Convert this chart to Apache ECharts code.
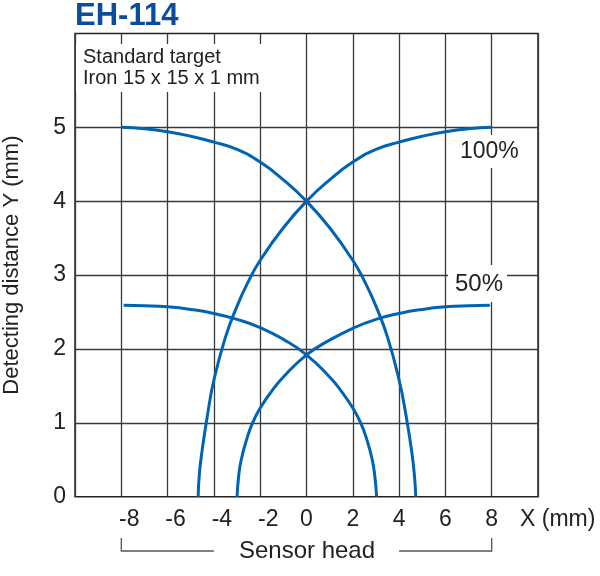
<!DOCTYPE html>
<html><head><meta charset="utf-8">
<script src="https://cdn.jsdelivr.net/npm/echarts@6/dist/echarts.min.js"></script>
<style>html,body{margin:0;padding:0;background:#fff}#c{width:600px;height:576px}</style>
</head><body><div id="c"></div>
<script>
// ---- data ----
const xTicks = [-8, -6, -4, -2, 0, 2, 4, 6, 8];
const yTicks = [0, 1, 2, 3, 4, 5];
// 100% curves
const c100DownX = [-8, -7, -6, -5, -4, -3, -2, -1, 0, 1, 2, 2.5, 3, 3.5, 4, 4.3, 4.55, 4.66, 4.72];
const c100DownY = [5.0, 4.98, 4.94, 4.88, 4.80, 4.70, 4.53, 4.29, 4.0, 3.64, 3.20, 2.92, 2.58, 2.16, 1.58, 1.10, 0.6, 0.3, 0];
const c100UpX = [8, 7, 6, 5, 4, 3, 2, 1, 0, -1, -2, -2.5, -3, -3.5, -4, -4.28, -4.52, -4.63, -4.68];
const c100UpY = [5.0, 4.98, 4.94, 4.88, 4.80, 4.70, 4.53, 4.29, 4.0, 3.64, 3.20, 2.92, 2.58, 2.16, 1.58, 1.10, 0.6, 0.3, 0];
// 50% curves
const c50DownX = [-7.9, -7, -6, -5, -4, -3, -2, -1, 0, 1, 1.5, 2, 2.34, 2.6, 2.84, 2.95, 3.03];
const c50DownY = [2.59, 2.585, 2.57, 2.535, 2.48, 2.40, 2.29, 2.13, 1.92, 1.62, 1.43, 1.20, 1.0, 0.78, 0.5, 0.28, 0];
const c50UpX = [7.92, 7, 6, 5, 4, 3, 2, 1, 0, -1, -1.5, -2, -2.33, -2.58, -2.82, -2.93, -3.0];
const c50UpY = [2.59, 2.585, 2.57, 2.535, 2.48, 2.40, 2.28, 2.12, 1.92, 1.62, 1.43, 1.20, 1.0, 0.78, 0.5, 0.28, 0];

const FONT = '"Liberation Sans", Arial, Helvetica, sans-serif';
const BLUE = '#0064b4';
const GRID = '#3a3a3a';
const chart = echarts.init(document.getElementById('c'));
const pairs = (xs, ys) => xs.map((x, i) => [x, ys[i]]);
const curve = (xs, ys) => ({
  type: 'line', data: pairs(xs, ys), showSymbol: false, smooth: 0.5,
  lineStyle: { color: BLUE, width: 3 }, z: 5, silent: true
});

chart.setOption({
  animation: false,
  grid: {
    left: 75, right: 62, top: 33.5, bottom: 79.3, show: true, borderColor: '#222', borderWidth: 1.5,
    containLabel: false, outerBoundsMode: 'none'
  },
  xAxis: {
    type: 'value', min: -10, max: 10, interval: 2,
    axisLine: { show: false }, axisTick: { show: false },
    splitLine: { show: true, lineStyle: { color: GRID, width: 1.3 } },
    axisLabel: {
      formatter: v => !xTicks.includes(v) ? '' : (v < 0 ? '{neg|' + v + '}' : '{pos|' + v + '}'),
      color: '#222', fontSize: 23, fontFamily: FONT, margin: 11,
      rich: {
        neg: { fontSize: 23, fontFamily: FONT, color: '#222', padding: [0, 0, 0, 16] },
        pos: { fontSize: 23, fontFamily: FONT, color: '#222' }
      }
    }
  },
  yAxis: {
    type: 'value', min: 0, max: 6.27, interval: 1,
    axisLine: { show: false }, axisTick: { show: false }, splitLine: { show: false },
    axisLabel: { formatter: v => yTicks.includes(v) ? String(v) : '', color: '#222', fontSize: 23, fontFamily: FONT, margin: 9 },
    name: 'Detecting distance Y (mm)', nameLocation: 'middle', nameGap: 52, nameRotate: 90,
    nameTextStyle: { color: '#222', fontSize: 22, fontFamily: FONT }
  },
  series: [
    {
      type: 'line', data: [], z: 1,
      markLine: {
        silent: true, symbol: 'none', label: { show: false }, animation: false,
        lineStyle: { color: GRID, width: 1.3, type: 'solid' },
        data: yTicks.filter(v => v > 0).map(v => ({ yAxis: v }))
      }
    },
    curve(c100DownX, c100DownY),
    curve(c100UpX, c100UpY),
    curve(c50DownX, c50DownY),
    curve(c50UpX, c50UpY)
  ]
});

const px = v => chart.convertToPixel({ xAxisIndex: 0 }, v);
const txt = (x, y, s, size, extra) => ({
  type: 'text', x, y, z: 100,
  style: Object.assign({ text: s, fill: '#222', font: size + 'px ' + FONT }, extra || {})
});
chart.setOption({
  graphic: [
    { type: 'text', x: 75, y: 1, z: 100, style: { text: 'EH-114', fill: '#0b4c9f', font: 'bold 31px ' + FONT } },
    { type: 'rect', z: 90, shape: { x: 76, y: 44, width: 190, height: 48 }, style: { fill: '#fff' } },
    txt(83, 47, 'Standard target\nIron 15 x 15 x 1 mm', 20, { lineHeight: 21 }),
    { type: 'rect', z: 90, shape: { x: 455, y: 135, width: 70, height: 33 }, style: { fill: '#fff' } },
    txt(460, 152, '100%', 23, { verticalAlign: 'middle' }),
    { type: 'rect', z: 90, shape: { x: 448, y: 265, width: 59, height: 37 }, style: { fill: '#fff' } },
    txt(455, 284, '50%', 24, { verticalAlign: 'middle' }),
    txt(520, 520, 'X (mm)', 23, { verticalAlign: 'middle' }),
    txt(307, 551, 'Sensor head', 24, { align: 'center', verticalAlign: 'middle' }),
    { type: 'polyline', z: 100, shape: { points: [[px(-8), 538], [px(-8), 551], [px(-4), 551]] }, style: { stroke: '#555', lineWidth: 1.3, fill: null } },
    { type: 'polyline', z: 100, shape: { points: [[px(4), 551], [px(8), 551], [px(8), 538]] }, style: { stroke: '#555', lineWidth: 1.3, fill: null } }
  ]
});
</script>
</body></html>
